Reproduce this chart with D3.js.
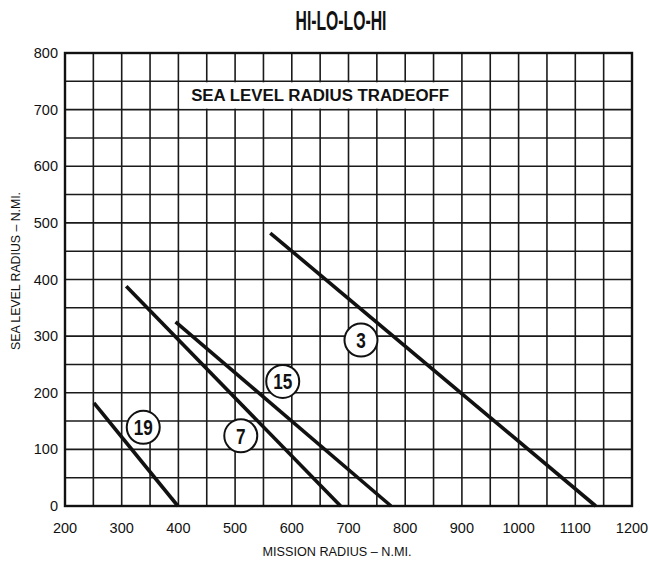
<!DOCTYPE html>
<html>
<head>
<meta charset="utf-8">
<script src="https://cdn.jsdelivr.net/npm/d3@7"></script>
<style>
  body { margin: 0; background: #fff; }
  text { fill: #111; font-family: "Liberation Sans", Arial, sans-serif; }
</style>
</head>
<body>
<div id="chart"></div>
<script>
  // curves: [mission radius, sea level radius] end points
  const curveNames = ['3', '15', '7', '19'];
  const curveStart = [[562, 482], [395, 325], [308, 388], [251, 182]];
  const curveEnd = [[1136, 0], [775, 0], [686, 0], [399, 0]];
  const labelPos = [[722, 293], [584, 220], [510, 124], [338, 139]];

  const xTicks = [200, 300, 400, 500, 600, 700, 800, 900, 1000, 1100, 1200];
  const yTicks = [0, 100, 200, 300, 400, 500, 600, 700, 800];

  const width = 649, height = 563;
  const margin = { top: 53, right: 17, bottom: 57, left: 65 };

  const svg = d3.select('#chart').append('svg')
    .attr('width', width)
    .attr('height', height);

  const x = d3.scaleLinear().domain([200, 1200]).range([margin.left, width - margin.right]);
  const y = d3.scaleLinear().domain([0, 800]).range([height - margin.bottom, margin.top]);

  // grid every 50
  const g = svg.append('g').attr('class', 'grid');
  g.selectAll('.vx')
    .data(d3.range(250, 1200, 50))
    .enter().append('line')
      .attr('x1', d => x(d)).attr('x2', d => x(d))
      .attr('y1', y(0)).attr('y2', y(800))
      .attr('stroke', '#1a1a1a').attr('stroke-width', 1.6);
  g.selectAll('.hy')
    .data(d3.range(50, 800, 50))
    .enter().append('line')
      .attr('x1', x(200)).attr('x2', x(1200))
      .attr('y1', d => y(d)).attr('y2', d => y(d))
      .attr('stroke', '#1a1a1a').attr('stroke-width', 1.6);

  svg.append('rect')
    .attr('x', x(200)).attr('y', y(800))
    .attr('width', x(1200) - x(200)).attr('height', y(0) - y(800))
    .attr('fill', 'none').attr('stroke', '#111').attr('stroke-width', 2.4);

  // caption box
  svg.append('rect')
    .attr('x', x(400) + 1).attr('y', y(750) + 1)
    .attr('width', x(900) - x(400) - 2).attr('height', y(700) - y(750) - 2)
    .attr('fill', '#fff');
  svg.append('text')
    .attr('x', (x(400) + x(900)) / 2).attr('y', y(725) + 6)
    .attr('text-anchor', 'middle')
    .attr('textLength', 258).attr('lengthAdjust', 'spacingAndGlyphs')
    .style('font-size', '16px').style('font-weight', 'bold')
    .text('SEA LEVEL RADIUS TRADEOFF');

  // axes labels
  svg.append('g').selectAll('text')
    .data(xTicks)
    .enter().append('text')
      .attr('x', d => x(d)).attr('y', y(0) + 27)
      .attr('text-anchor', 'middle')
      .style('font-size', '14.5px')
      .text(d => d);
  svg.append('g').selectAll('text')
    .data(yTicks)
    .enter().append('text')
      .attr('x', x(200) - 7).attr('y', d => y(d) + 5)
      .attr('text-anchor', 'end')
      .style('font-size', '14.5px')
      .text(d => d);

  svg.append('text')
    .attr('x', 337).attr('y', 556)
    .attr('text-anchor', 'middle')
    .attr('textLength', 149).attr('lengthAdjust', 'spacingAndGlyphs')
    .style('font-size', '12px')
    .text('MISSION RADIUS – N.MI.');
  svg.append('text')
    .attr('transform', 'translate(20,271) rotate(-90)')
    .attr('text-anchor', 'middle')
    .attr('textLength', 158).attr('lengthAdjust', 'spacingAndGlyphs')
    .style('font-size', '12px')
    .text('SEA LEVEL RADIUS – N.MI.');

  // title
  svg.append('text')
    .attr('x', 341).attr('y', 30)
    .attr('text-anchor', 'middle')
    .attr('textLength', 91).attr('lengthAdjust', 'spacingAndGlyphs')
    .style('font-weight', 'bold')
    .style('font-size', '28px')
    .text('HI-LO-LO-HI');

  // curves
  svg.append('g').selectAll('line')
    .data(curveNames)
    .enter().append('line')
      .attr('x1', (d, i) => x(curveStart[i][0])).attr('y1', (d, i) => y(curveStart[i][1]))
      .attr('x2', (d, i) => x(curveEnd[i][0])).attr('y2', (d, i) => y(curveEnd[i][1]))
      .attr('stroke', '#111').attr('stroke-width', 3.6);

  // circled labels
  const lab = svg.append('g').selectAll('g')
    .data(curveNames)
    .enter().append('g')
      .attr('transform', (d, i) => `translate(${x(labelPos[i][0])},${y(labelPos[i][1])})`);
  lab.append('circle')
    .attr('r', 16.5)
    .attr('fill', '#fff').attr('stroke', '#111').attr('stroke-width', 2);
  lab.append('text')
    .attr('y', 8)
    .attr('text-anchor', 'middle')
    .attr('transform', 'scale(0.78,1)')
    .style('font-weight', 'bold')
    .style('font-size', '22px')
    .text(d => d);
</script>
</body>
</html>
